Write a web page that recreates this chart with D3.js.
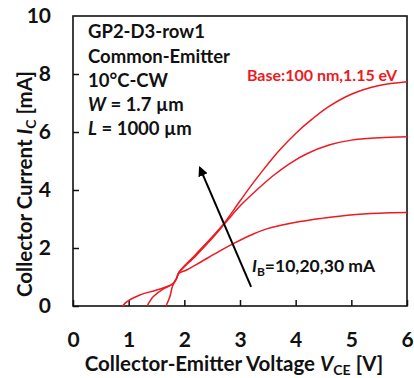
<!DOCTYPE html>
<html>
<head>
<meta charset="utf-8">
<script src="https://cdn.jsdelivr.net/npm/d3@7"></script>
<style>
  body { margin: 0; background: #fff; }
  svg { font-family: Lato, "Open Sans", sans-serif; font-weight: bold; }
</style>
</head>
<body>
<svg id="chart" width="414" height="378"></svg>
<script>
// I-V curves for three base currents
const ibLabels = [10, 20, 30];
const vce10 = [0.89, 0.97, 1.2, 1.5, 1.79, 1.86, 1.9, 2.05, 2.28, 2.64, 2.88, 3.2, 3.48, 4.08, 4.5, 4.98, 5.5, 6.0];
const ic10  = [0, 0.15, 0.38, 0.55, 0.76, 0.95, 1.12, 1.25, 1.5, 1.9, 2.15, 2.45, 2.66, 2.91, 3.03, 3.14, 3.2, 3.22];
const vce20 = [1.33, 1.44, 1.59, 1.79, 1.86, 1.9, 2.2, 2.46, 2.7, 3.0, 3.3, 3.6, 3.9, 4.2, 4.6, 5.0, 5.5, 6.0];
const ic20  = [0, 0.32, 0.55, 0.76, 0.95, 1.14, 1.72, 2.25, 2.78, 3.45, 4.0, 4.5, 4.92, 5.25, 5.55, 5.72, 5.8, 5.84];
const vce30 = [1.67, 1.74, 1.79, 1.86, 1.9, 2.2, 2.46, 2.7, 3.0, 3.2, 3.4, 3.7, 4.0, 4.3, 4.6, 5.0, 5.5, 6.0];
const ic30  = [0, 0.32, 0.7, 0.95, 1.16, 1.77, 2.3, 2.82, 3.62, 4.15, 4.65, 5.35, 5.95, 6.45, 6.88, 7.3, 7.6, 7.73];

const xTicks = [0, 1, 2, 3, 4, 5, 6];
const yTicks = [0, 2, 4, 6, 8, 10];

// arrow showing increasing IB (V, mA)
const arrowFrom = [3.2, 0.66];
const arrowTo = [2.28, 4.76];

const svg = d3.select("#chart");
const margin = {left: 73, top: 16, right: 7, bottom: 72};
const W = 414 - margin.left - margin.right;
const H = 378 - margin.top - margin.bottom;

const x = d3.scaleLinear().domain([0, 6]).range([0, W]);
const y = d3.scaleLinear().domain([0, 10]).range([H, 0]);

const g = svg.append("g").attr("transform", `translate(${margin.left},${margin.top})`);

// axes, ticks point inward
const xAxis = g.append("g").attr("transform", `translate(0,${H})`)
  .call(d3.axisBottom(x).tickValues(xTicks).tickFormat(d3.format("d")).tickSizeInner(-6).tickSizeOuter(0).tickPadding(26));
const yAxis = g.append("g")
  .call(d3.axisLeft(y).tickValues(yTicks).tickFormat(d3.format("d")).tickSizeInner(-6).tickSizeOuter(0).tickPadding(22));

[xAxis, yAxis].forEach(a => {
  a.select(".domain").remove();
  a.selectAll("line").attr("stroke", "#111").attr("stroke-width", 1.5);
  a.selectAll("text").attr("font-size", 21).attr("font-family", "Lato").attr("font-weight", "bold").attr("fill", "#111");
});
yAxis.selectAll(".tick").filter(d => d === 10).select("line").remove();

// frame
g.append("rect").attr("width", W).attr("height", H)
  .attr("fill", "none").attr("stroke", "#111").attr("stroke-width", 1.6);

// curves
const series = [[vce10, ic10], [vce20, ic20], [vce30, ic30]];
const line = d3.line().x(d => x(d[0])).y(d => y(d[1])).curve(d3.curveCatmullRom.alpha(0.5));
series.forEach(s => {
  const pts = s[0].map((v, i) => [v, s[1][i]]);
  g.append("path").datum(pts).attr("d", line)
    .attr("fill", "none").attr("stroke", "#ec1a22").attr("stroke-width", 1.5);
});

// arrow
svg.append("defs").append("marker")
  .attr("id", "head").attr("viewBox", "0 0 10 10").attr("refX", 8).attr("refY", 5)
  .attr("markerWidth", 5).attr("markerHeight", 5).attr("orient", "auto")
  .append("path").attr("d", "M0,0 L10,5 L0,10 z").attr("fill", "#000");
g.append("line")
  .attr("x1", x(arrowFrom[0])).attr("y1", y(arrowFrom[1]))
  .attr("x2", x(arrowTo[0])).attr("y2", y(arrowTo[1]))
  .attr("stroke", "#000").attr("stroke-width", 2).attr("marker-end", "url(#head)");

// annotation block
const note = g.append("g").attr("font-size", 18.5).attr("fill", "#111");
note.append("text").attr("x", 15).attr("y", 22).text("GP2-D3-row1");
note.append("text").attr("x", 15).attr("y", 47).text("Common-Emitter");
note.append("text").attr("x", 15).attr("y", 71).text("10°C-CW");
const t4 = note.append("text").attr("x", 15).attr("y", 95);
t4.append("tspan").attr("font-style", "italic").text("W");
t4.append("tspan").text(" = 1.7 µm");
const t5 = note.append("text").attr("x", 15).attr("y", 119);
t5.append("tspan").attr("font-style", "italic").text("L");
t5.append("tspan").text(" = 1000 µm");

g.append("text").attr("x", W - 10).attr("y", 65).attr("text-anchor", "end")
  .attr("font-size", 16).attr("fill", "#ec1a22").text("Base:100 nm,1.15 eV");

const ibText = g.append("text").attr("x", 179).attr("y", 256).attr("font-size", 17.5).attr("fill", "#111");
ibText.append("tspan").attr("font-style", "italic").text("I");
ibText.append("tspan").attr("font-size", 12).attr("dy", 4).text("B");
ibText.append("tspan").attr("dy", -4).text("=" + ibLabels.join(",") + " mA");

// axis titles
const xt = svg.append("text").attr("x", 234).attr("y", 371)
  .attr("text-anchor", "middle").attr("font-size", 20.5).attr("fill", "#111");
xt.append("tspan").text("Collector-Emitter Voltage ");
xt.append("tspan").attr("font-style", "italic").text("V");
xt.append("tspan").attr("font-size", 14).attr("dy", 4).text("CE");
xt.append("tspan").attr("dy", -4).text(" [V]");

const yt = svg.append("text").attr("transform", `translate(32,184) rotate(-90)`)
  .attr("text-anchor", "middle").attr("font-size", 20.5).attr("fill", "#111");
yt.append("tspan").text("Collector Current ");
yt.append("tspan").attr("font-style", "italic").text("I");
yt.append("tspan").attr("font-size", 14).attr("dy", 4).text("C");
yt.append("tspan").attr("dy", -4).text(" [mA]");
</script>
</body>
</html>
